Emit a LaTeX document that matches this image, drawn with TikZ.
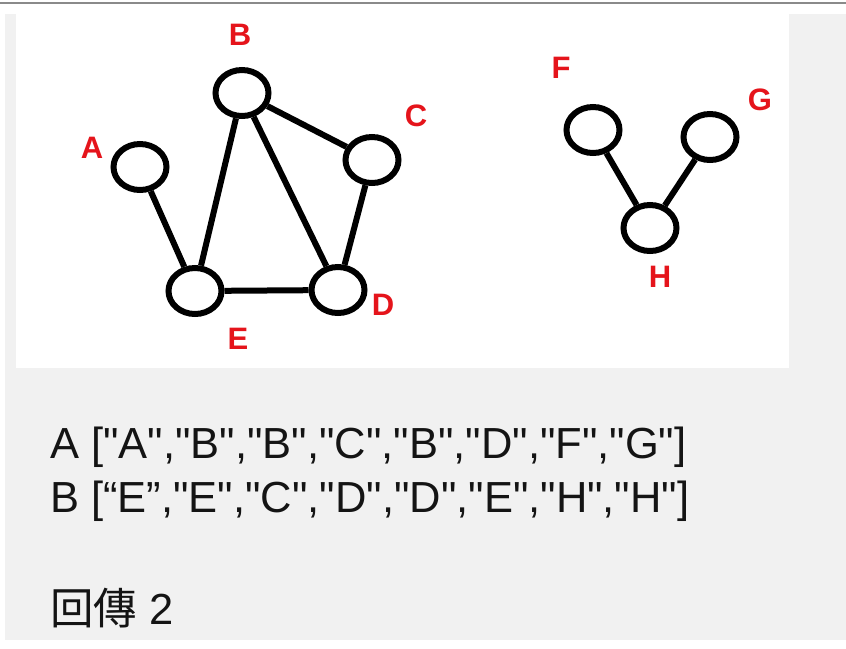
\documentclass[tikz,border=0pt]{standalone}
\usepackage{fontspec}
\setmainfont{Liberation Sans}[Ligatures=TeXOff]
\newfontfamily\cjkfont{Noto Sans CJK TC}
\usetikzlibrary{shapes.geometric}
\definecolor{panelgray}{HTML}{F1F1F1}
\definecolor{rulegray}{HTML}{8A8A8A}
\definecolor{lblred}{HTML}{E5141B}
\tikzset{
  vtx/.style={ellipse, draw=black, fill=white, line width=6pt, inner sep=0pt, minimum width=53pt, minimum height=46pt},
  lbl/.style={text=lblred, font=\fontsize{31}{31}\selectfont\bfseries, inner sep=0pt},
  edge/.style={line width=6pt, black},
  txt/.style={anchor=base west, inner sep=0pt, font=\fontsize{43.5}{43.5}\selectfont, text=black!92}
}
\begin{document}
\begin{tikzpicture}[x=1pt,y=-1pt]
\useasboundingbox (0,0) rectangle (846,648);
\fill[white] (0,0) rectangle (846,648);
\fill[panelgray] (5,14) rectangle (846,640);
\fill[white] (16,14) rectangle (789,368);
\draw[rulegray, line width=1.5pt] (0,3) -- (846,3);
% vertices
\node[vtx] (A) at (140,167) {};
\node[vtx] (B) at (242,93) {};
\node[vtx] (C) at (372,160) {};
\node[vtx] (D) at (338,290) {};
\node[vtx] (E) at (195,291) {};
\node[vtx] (F) at (593,130) {};
\node[vtx] (G) at (710,137) {};
\node[vtx] (H) at (650,228) {};
% labels
\node[lbl] (lA) at (92,148) {A};
\node[lbl] (lB) at (240,35) {B};
\node[lbl] (lC) at (416,116) {C};
\node[lbl] (lD) at (383,305) {D};
\node[lbl] (lE) at (238,339) {E};
\node[lbl] (lF) at (561,68) {F};
\node[lbl] (lG) at (760,100) {G};
\node[lbl] (lH) at (660,277) {H};
% edges
\draw[edge] (A) -- (E);
\draw[edge] (B) -- (E);
\draw[edge] (B) -- (D);
\draw[edge] (B) -- (C);
\draw[edge] (C) -- (D);
\draw[edge] (E) -- (D);
\draw[edge] (F) -- (H);
\draw[edge] (G) -- (H);
% text
\node[txt] (t1) at (50,458) {A ["A","B","B","C","B","D","F","G"]};
\node[txt] (t2) at (50,512) {B [“E”,"E","C","D","D","E","H","H"]};
\node[txt] (t3) at (50,624) {{\cjkfont 回傳} 2};
\end{tikzpicture}
\end{document}
